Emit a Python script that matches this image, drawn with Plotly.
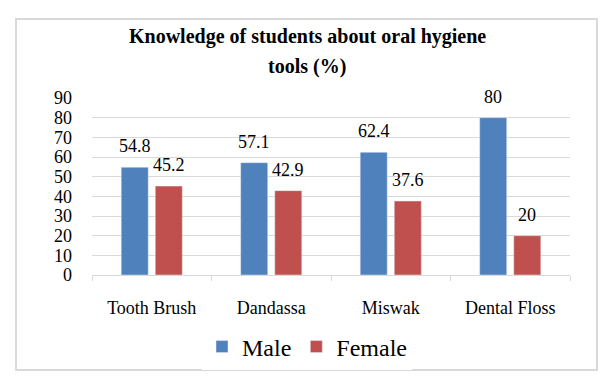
import plotly.graph_objects as go

categories = ["Tooth Brush", "Dandassa", "Miswak", "Dental Floss"]
male = [54.8, 57.1, 62.4, 80]
female = [45.2, 42.9, 37.6, 20]
y_ticks = list(range(0, 91, 10))

FONT = "'Liberation Serif', 'Times New Roman', Times, serif"
OFF = 8  # page body margin
W, H = 614 - OFF, 389 - OFF
L = 92 - OFF
T = 98 - OFF
R = W - (570 - OFF)
B = H - (275 - OFF)
pw, ph = W - L - R, H - T - B

def px_x(x):
    return (x - OFF - L) / pw

def px_y(y):
    return (H - B - (y - OFF)) / ph

fig = go.Figure()
fig.add_trace(go.Bar(name="Male", x=categories, y=male, marker_color="#4F81BD"))
fig.add_trace(go.Bar(name="Female", x=categories, y=female, marker_color="#C0504D"))

fig.update_layout(
    width=W, height=H,
    margin=dict(l=L, r=R, t=T, b=B, autoexpand=False),
    paper_bgcolor="white", plot_bgcolor="white",
    barmode="group", bargap=0.43, bargroupgap=0.206,
    font=dict(family=FONT, size=18, color="black"),
    showlegend=True,
    legend=dict(orientation="h", x=px_x(307), xanchor="center",
                y=px_y(347), yanchor="middle",
                font=dict(family=FONT, size=24, color="black"),
                itemwidth=30),
    xaxis=dict(showgrid=False, showline=True, linecolor="#D9D9D9", linewidth=1,
               ticks="outside", tickson="boundaries", ticklen=5, tickcolor="#D9D9D9",
               tickfont=dict(family=FONT, size=18, color="black"),
               ticklabelstandoff=16),
    yaxis=dict(range=[0, 90], tickvals=y_ticks, showgrid=True, gridcolor="#D9D9D9",
               gridwidth=1, zeroline=False, showline=False,
               tickfont=dict(family=FONT, size=18, color="black"),
               ticklabelstandoff=19),
)

# data labels above bars, placed through the axes
for series, shift in ((male, -17), (female, 17)):
    for cat, v in zip(categories, series):
        fig.add_annotation(x=cat, y=v, xref="x", yref="y", text=f"{v:g}",
                           showarrow=False, xanchor="center", yanchor="middle",
                           xshift=shift, yshift=21,
                           font=dict(family=FONT, size=18, color="black"))

fig.add_annotation(text="<b>Knowledge of students about oral hygiene</b>", xref="paper", yref="paper",
                   x=px_x(307), y=px_y(37), xanchor="center", yanchor="middle", showarrow=False,
                   font=dict(family=FONT, size=20, color="black"))
fig.add_annotation(text="<b>tools (%)</b>", xref="paper", yref="paper",
                   x=px_x(307), y=px_y(67), xanchor="center", yanchor="middle", showarrow=False,
                   font=dict(family=FONT, size=20, color="black"))

fig.add_shape(type="rect", xref="paper", yref="paper",
              x0=px_x(16), x1=px_x(597), y0=px_y(370), y1=px_y(19),
              line=dict(color="#D9D9D9", width=2), fillcolor="rgba(0,0,0,0)", layer="below")

fig.write_html("out.html")
